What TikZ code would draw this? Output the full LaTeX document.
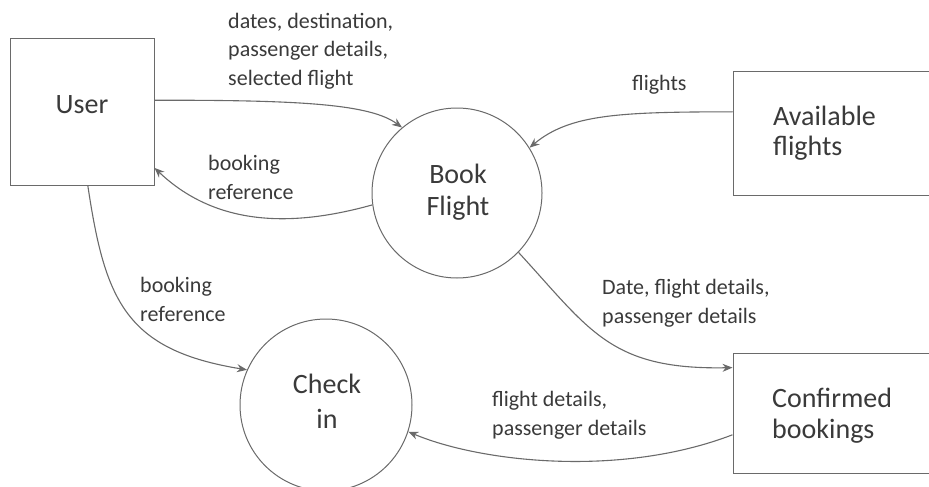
\documentclass[tikz,border=0pt]{standalone}
\usepackage{fontspec}
\setmainfont{Carlito}
\usetikzlibrary{arrows.meta,calc}
\definecolor{ink}{HTML}{3A3A3A}
\definecolor{edge}{HTML}{6A6A6A}
\tikzset{
  entity/.style={draw=edge, line width=1pt, rectangle, inner sep=0pt},
  process/.style={draw=edge, line width=1pt, circle, inner sep=0pt},
  flow/.style={draw=edge, line width=1.1pt, -{Stealth[length=10pt,width=8pt]}},
  lbl/.style={text=ink, inner sep=0pt, align=left, anchor=base west, font=\fontsize{22}{28.5}\selectfont},
  ntext/.style={text=ink, inner sep=0pt, font=\fontsize{28}{32}\selectfont},
}
\begin{document}
\begin{tikzpicture}[x=1pt,y=-1pt]
\useasboundingbox (0,0) rectangle (929,487);
\clip (0,0) rectangle (929,487);
% shapes
\node[entity, minimum width=144pt, minimum height=146pt] (user) at (82,112) {};
\node[process, minimum size=170pt] (book) at (457,193) {};
\node[entity, minimum width=202pt, minimum height=123pt] (avail) at (834,133.5) {};
\node[entity, minimum width=202pt, minimum height=120pt] (conf) at (834,413) {};
\node[process, minimum size=172pt] (checkin) at (326,405) {};
% shape texts (anchor base = baseline of the last line)
\node[ntext, anchor=base] (userT) at (82,113) {User};
\node[ntext, anchor=base, align=center, font=\fontsize{28}{32}\selectfont] (bookT) at (458,215) {Book\\Flight};
\node[ntext, anchor=base west, align=left, font=\fontsize{28}{30}\selectfont] (availT) at (773,155) {Available\\flights};
\node[ntext, anchor=base west, align=left, font=\fontsize{28}{31}\selectfont] (confT) at (772,438) {Confirmed\\bookings};
\node[ntext, anchor=base, align=center, font=\fontsize{28}{35}\selectfont] (checkT) at (327,428) {Check\\in};
% connectors
\draw[flow] ($(user.north east)!0.42!(user.south east)$) .. controls (300,100) and (370,104) .. (book.130);
\draw[flow] (book.188) .. controls (300,225) and (220,230) .. ($(user.north east)!0.88!(user.south east)$);
\draw[flow] ($(avail.north west)!0.325!(avail.south west)$) .. controls (620,112) and (570,114) .. (book.32);
\draw[flow] (book.-44) .. controls (590,330) and (610,370) .. ($(conf.north west)!0.125!(conf.south west)$);
\draw[flow] ($(conf.north west)!0.68!(conf.south west)$) .. controls (620,478) and (480,462) .. (checkin.-18);
\draw[flow] ($(user.south west)!0.54!(user.south east)$) .. controls (105,300) and (125,350) .. (checkin.156);
% labels (anchor base = baseline of the last line)
\node[lbl] (l1) at (228,85) {dates, destination,\\passenger details,\\selected flight};
\node[lbl] (l2) at (208,199) {booking\\reference};
\node[lbl] (l3) at (632,90) {flights};
\node[lbl] (l4) at (602,323) {Date, flight details,\\passenger details};
\node[lbl] (l5) at (140,321) {booking\\reference};
\node[lbl] (l6) at (492,435) {flight details,\\passenger details};
\end{tikzpicture}
\end{document}
